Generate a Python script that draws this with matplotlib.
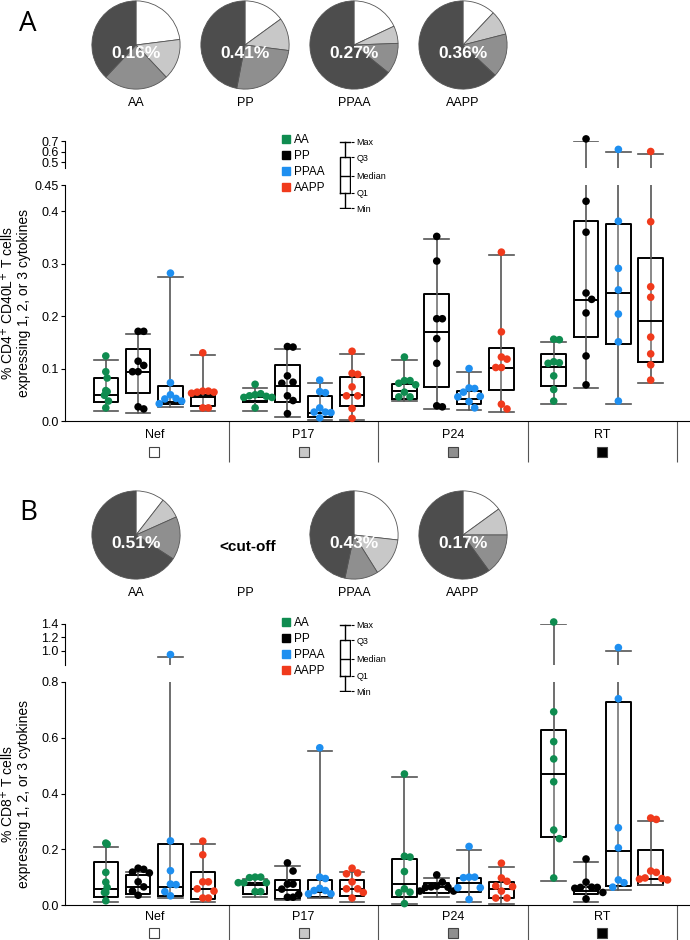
import numpy as np
import matplotlib
matplotlib.use("Agg")
import matplotlib.pyplot as plt
from matplotlib.lines import Line2D

plt.rcParams['font.family'] = ['Liberation Sans', 'DejaVu Sans']

W, H = 690, 940

# ---- data ----
groups = ["Nef", "P17", "P24", "RT"]
cohorts = ["AA", "PP", "PPAA", "AAPP"]
cohort_colors = ["#0f8c50", "#000000", "#1e8ff0", "#f03a1c"]
segment_colors = ["#ffffff", "#c8c8c8", "#8f8f8f", "#4d4d4d"]
square_colors = ["#ffffff", "#c8c8c8", "#8f8f8f", "#000000"]

# pies: Nef, P17, P24, RT share of the response
pie_a_pct = ["0.16%", "0.41%", "0.27%", "0.36%"]
pie_a_fracs = [[23, 15, 24, 38], [15, 12, 26, 47], [18, 6.4, 11.4, 64.2], [12, 9, 16, 63]]
pie_b_pct = ["0.51%", "<cut-off", "0.43%", "0.17%"]
pie_b_fracs = [[10.5, 7.8, 15.8, 65.9], None, [26.8, 14.3, 12.2, 46.7], [15, 10, 15, 60]]

# panel A (CD4), order: Nef AA, PP, PPAA, AAPP, P17 ..., P24 ..., RT ...
a_lo = [0.019, 0.016, 0.027, 0.019, 0.019, 0.008, 0.001, 0.002,
        0.038, 0.022, 0.021, 0.017, 0.032, 0.063, 0.032, 0.072]
a_q1 = [0.036, 0.053, 0.033, 0.029, 0.036, 0.037, 0.008, 0.029,
        0.042, 0.064, 0.032, 0.059, 0.066, 0.160, 0.147, 0.112]
a_med = [0.050, 0.094, 0.037, 0.046, 0.038, 0.067, 0.016, 0.050,
         0.057, 0.170, 0.042, 0.102, 0.103, 0.230, 0.244, 0.190]
a_q3 = [0.082, 0.137, 0.067, 0.050, 0.046, 0.107, 0.048, 0.084,
        0.070, 0.242, 0.057, 0.139, 0.128, 0.381, 0.375, 0.310]
a_hi = [0.117, 0.166, 0.275, 0.125, 0.063, 0.137, 0.072, 0.127,
        0.116, 0.347, 0.094, 0.316, 0.150, 0.700, 0.600, 0.580]
a_pts = [
    [0.124, 0.094, 0.082, 0.058, 0.056, 0.049, 0.038, 0.025],
    [0.171, 0.171, 0.114, 0.106, 0.094, 0.094, 0.027, 0.023],
    [0.282, 0.073, 0.050, 0.043, 0.042, 0.038, 0.033],
    [0.130, 0.057, 0.055, 0.053, 0.055, 0.057, 0.025, 0.025],
    [0.070, 0.052, 0.050, 0.048, 0.047, 0.045, 0.045, 0.025],
    [0.142, 0.141, 0.086, 0.074, 0.072, 0.048, 0.039, 0.014],
    [0.078, 0.056, 0.054, 0.025, 0.017, 0.017, 0.016, 0.006],
    [0.133, 0.091, 0.089, 0.065, 0.048, 0.048, 0.024, 0.005],
    [0.122, 0.077, 0.077, 0.072, 0.069, 0.055, 0.046, 0.046],
    [0.352, 0.305, 0.195, 0.195, 0.157, 0.110, 0.029, 0.027],
    [0.100, 0.063, 0.062, 0.055, 0.047, 0.046, 0.037, 0.025],
    [0.322, 0.170, 0.122, 0.118, 0.102, 0.102, 0.032, 0.023],
    [0.156, 0.155, 0.113, 0.111, 0.110, 0.086, 0.060, 0.038],
    [0.720, 0.419, 0.360, 0.244, 0.232, 0.206, 0.124, 0.069],
    [0.620, 0.381, 0.291, 0.250, 0.204, 0.151, 0.038],
    [0.600, 0.380, 0.256, 0.236, 0.160, 0.128, 0.107, 0.078],
]

# panel B (CD8)
b_lo = [0.010, 0.030, 0.025, 0.010, 0.030, 0.018, 0.025, 0.012,
        0.005, 0.028, 0.010, 0.005, 0.087, 0.010, 0.054, 0.070]
b_q1 = [0.030, 0.040, 0.033, 0.020, 0.040, 0.022, 0.030, 0.032,
        0.030, 0.044, 0.046, 0.025, 0.244, 0.040, 0.068, 0.072]
b_med = [0.058, 0.066, 0.063, 0.057, 0.070, 0.053, 0.045, 0.057,
         0.075, 0.065, 0.078, 0.058, 0.470, 0.050, 0.194, 0.093]
b_q3 = [0.153, 0.107, 0.218, 0.118, 0.078, 0.090, 0.091, 0.090,
        0.165, 0.079, 0.097, 0.082, 0.628, 0.064, 0.729, 0.198]
b_hi = [0.208, 0.118, 0.900, 0.218, 0.095, 0.140, 0.553, 0.118,
        0.460, 0.097, 0.198, 0.137, 1.400, 0.155, 1.000, 0.300]
b_pts = [
    [0.222, 0.218, 0.117, 0.082, 0.063, 0.045, 0.045, 0.015],
    [0.132, 0.128, 0.118, 0.115, 0.083, 0.065, 0.050, 0.035],
    [0.940, 0.230, 0.123, 0.075, 0.073, 0.048, 0.033],
    [0.229, 0.180, 0.083, 0.083, 0.058, 0.050, 0.025, 0.025],
    [0.100, 0.100, 0.098, 0.080, 0.080, 0.080, 0.048, 0.048],
    [0.151, 0.122, 0.075, 0.075, 0.057, 0.038, 0.028, 0.028],
    [0.564, 0.100, 0.095, 0.060, 0.052, 0.052, 0.040, 0.040],
    [0.132, 0.115, 0.112, 0.083, 0.058, 0.058, 0.045, 0.025],
    [0.470, 0.175, 0.172, 0.120, 0.058, 0.046, 0.044, 0.005],
    [0.108, 0.082, 0.068, 0.065, 0.064, 0.063, 0.050, 0.050],
    [0.210, 0.100, 0.100, 0.098, 0.062, 0.062, 0.020],
    [0.150, 0.097, 0.085, 0.068, 0.066, 0.050, 0.025, 0.025],
    [1.430, 0.693, 0.586, 0.524, 0.442, 0.269, 0.238, 0.097],
    [0.165, 0.082, 0.064, 0.063, 0.063, 0.060, 0.045, 0.022],
    [1.045, 0.740, 0.277, 0.205, 0.090, 0.080, 0.064],
    [0.312, 0.307, 0.122, 0.117, 0.097, 0.095, 0.093, 0.090],
]


def rect(x0, y0, x1, y1):
    # pixel box (top-left origin) -> figure fraction
    return [x0 / W, 1 - y1 / H, (x1 - x0) / W, (y1 - y0) / H]


fig = plt.figure(figsize=(W / 100, H / 100), dpi=100)

BOX_W = 0.164
STEP = 0.2165
positions = [g + (c - 1.5) * STEP for g in range(len(groups)) for c in range(len(cohorts))]
XLIM = (-0.598, 3.588)


def swarm_x(ax, x0, vals, d=5.6):
    # simple beeswarm in pixel space so dots don't pile up
    vals = np.asarray(vals, float)
    pix = ax.transData.transform(np.column_stack([np.full(len(vals), x0), vals]))
    off = np.zeros(len(vals))
    placed = []
    for i in np.argsort(-pix[:, 1]):
        for k in [0, 1, -1, 2, -2, 3, -3]:
            c = k * d
            if all((c - px) ** 2 + (pix[i, 1] - py) ** 2 >= d ** 2 for px, py in placed):
                break
        off[i] = c
        placed.append((c, pix[i, 1]))
    back = ax.transData.inverted().transform(np.column_stack([pix[:, 0] + off, pix[:, 1]]))
    return back[:, 0]


def draw_boxes(ax, lo, q1, med, q3, hi, pts, keep):
    stats = [dict(whislo=a, q1=b, med=c, q3=d, whishi=e, fliers=[])
             for a, b, c, d, e in zip(lo, q1, med, q3, hi)]
    ax.vlines(positions, lo, hi, colors="#6a6a6a", lw=1.1, zorder=1.5)
    ax.bxp(stats, positions=positions, widths=BOX_W, capwidths=BOX_W, showfliers=False,
           manage_ticks=False,
           boxprops=dict(color="black", linewidth=1.4),
           medianprops=dict(color="black", linewidth=1.4),
           whiskerprops=dict(color="#6a6a6a", linewidth=1.1),
           capprops=dict(color="#555555", linewidth=1.2))
    for i, vals in enumerate(pts):
        vals = [v for v in vals if keep(v)]
        if not vals:
            continue
        xs = swarm_x(ax, positions[i], vals)
        ax.scatter(xs, vals, s=30, color=cohort_colors[i % 4], edgecolors="none",
                   zorder=4, clip_on=False)


def panel(letter, letter_y, pie_y, pie_fracs, pie_pct, top_px, top_ylim, top_ticks,
          bot_px, bot_ylim, bot_ticks, bot_labels, lo, q1, med, q3, hi, pts,
          ylabel, lab_pad, sq_off, sep_len):
    fig.text(28 / W, 1 - letter_y / H, letter, fontsize=20, family="Open Sans",
             ha="center", va="center")

    # pies
    for k, cx in enumerate([136, 245, 354, 463]):
        fig.text(cx / W, 1 - (pie_y + 58) / H, cohorts[k], fontsize=9, ha="center", va="center")
        if pie_fracs[k] is None:
            fig.text((cx + 3) / W, 1 - (pie_y + 12) / H, pie_pct[k], fontsize=11,
                     fontweight="bold", ha="center", va="center")
            continue
        pa = fig.add_axes(rect(cx - 45, pie_y - 45, cx + 45, pie_y + 45))
        pa.pie(pie_fracs[k], colors=segment_colors, startangle=90, counterclock=False,
               wedgeprops=dict(edgecolor="#555555", linewidth=0.6))
        pa.set_xlim(-1.02, 1.02)
        pa.set_ylim(-1.02, 1.02)
        pa.text(0, -0.2, pie_pct[k], color="white", fontsize=12.5, fontweight="bold",
                ha="center", va="center")

    # broken y axis: compressed top part + main part
    ax_t = fig.add_axes(rect(65, top_px[0], 690, top_px[1]))
    ax_b = fig.add_axes(rect(65, bot_px[0], 690, bot_px[1]))
    split = bot_ylim[1]
    draw_boxes(ax_t, lo, q1, med, q3, hi, pts, lambda v: v > split)
    draw_boxes(ax_b, lo, q1, med, q3, hi, pts, lambda v: v <= split)

    for ax in (ax_t, ax_b):
        ax.set_xlim(*XLIM)
        ax.spines[["top", "right"]].set_visible(False)
        ax.tick_params(axis="y", length=3, width=0.8, pad=1.5, labelsize=9)
        ax.patch.set_alpha(0)
    ax_t.set_ylim(*top_ylim)
    ax_t.set_yticks(top_ticks, [f"{t:.1f}" for t in top_ticks])
    ax_t.spines["bottom"].set_visible(False)
    ax_t.set_xticks([])

    ax_b.set_xticks(range(len(groups)), groups)
    ax_b.tick_params(axis="x", length=0, pad=lab_pad, labelsize=9)

    # separators and the coloured keys under the group names
    h = bot_px[1] - bot_px[0]
    ax_b.vlines([0.5, 1.5, 2.5, 3.5], -sep_len / h, 0, transform=ax_b.get_xaxis_transform(),
                colors="#555555", lw=0.8, clip_on=False)
    for g in range(len(groups)):
        ax_b.plot([g], [-sq_off / h], marker="s", ms=6.5, ls="none", mfc=square_colors[g],
                  mec="#444444", mew=0.8, transform=ax_b.get_xaxis_transform(), clip_on=False)
    ax_b.set_ylim(*bot_ylim)
    ax_b.set_yticks(bot_ticks, bot_labels)

    fig.text(15 / W, 1 - (bot_px[0] + bot_px[1]) / 2 / H, ylabel, rotation=90, fontsize=10,
             ha="center", va="center", multialignment="center", linespacing=1.05)

    # legend for cohorts
    handles = [Line2D([], [], marker="s", ls="none", color=c, markersize=6) for c in cohort_colors]
    fig.legend(handles, cohorts, loc="upper left", bbox_to_anchor=(282 / W, 1 - (top_px[0] - 7) / H),
               frameon=False, fontsize=8.5, handlelength=0.7, handletextpad=0.35,
               labelspacing=0.33, borderpad=0, borderaxespad=0)

    # small key for the box elements
    y0 = top_px[0]
    kx = fig.add_axes(rect(339, y0, 351, y0 + 68))
    key = [0, 0.94, 1.94, 3.06, 4]
    kx.bxp([dict(whislo=key[0], q1=key[1], med=key[2], q3=key[3], whishi=key[4], fliers=[])],
           positions=[0], widths=1, capwidths=1, showfliers=False, manage_ticks=False,
           boxprops=dict(color="black", linewidth=1), medianprops=dict(color="black", linewidth=1),
           whiskerprops=dict(color="black", linewidth=1), capprops=dict(color="black", linewidth=1))
    kx.set_xlim(-0.55, 0.55)
    kx.set_ylim(-0.05, 4.05)
    for s in kx.spines.values():
        s.set_visible(False)
    kx.set_xticks([])
    kx.yaxis.tick_right()
    kx.set_yticks(key, ["Min", "Q1", "Median", "Q3", "Max"])
    kx.tick_params(axis="y", length=2, width=0.8, pad=2, labelsize=6.5)
    kx.patch.set_alpha(0)


panel("A", 24, 45, pie_a_fracs, pie_a_pct, (141, 168), (0.443, 0.7), [0.5, 0.6, 0.7],
      (185, 421), (0, 0.45), [0.0, 0.1, 0.2, 0.3, 0.4, 0.45],
      ["0.0", "0.1", "0.2", "0.3", "0.4", "0.45"],
      a_lo, a_q1, a_med, a_q3, a_hi, a_pts,
      "% CD4$^{+}$ CD40L$^{+}$ T cells\nexpressing 1, 2, or 3 cytokines", 6, 31, 41)

panel("B", 513, 535, pie_b_fracs, pie_b_pct, (624, 665), (0.783, 1.4), [1.0, 1.2, 1.4],
      (682, 905), (0, 0.8), [0.0, 0.2, 0.4, 0.6, 0.8],
      ["0.0", "0.2", "0.4", "0.6", "0.8"],
      b_lo, b_q1, b_med, b_q3, b_hi, b_pts,
      "% CD8$^{+}$ T cells\nexpressing 1, 2, or 3 cytokines", 4.5, 28, 36)

fig.savefig("out.png", dpi=100)
